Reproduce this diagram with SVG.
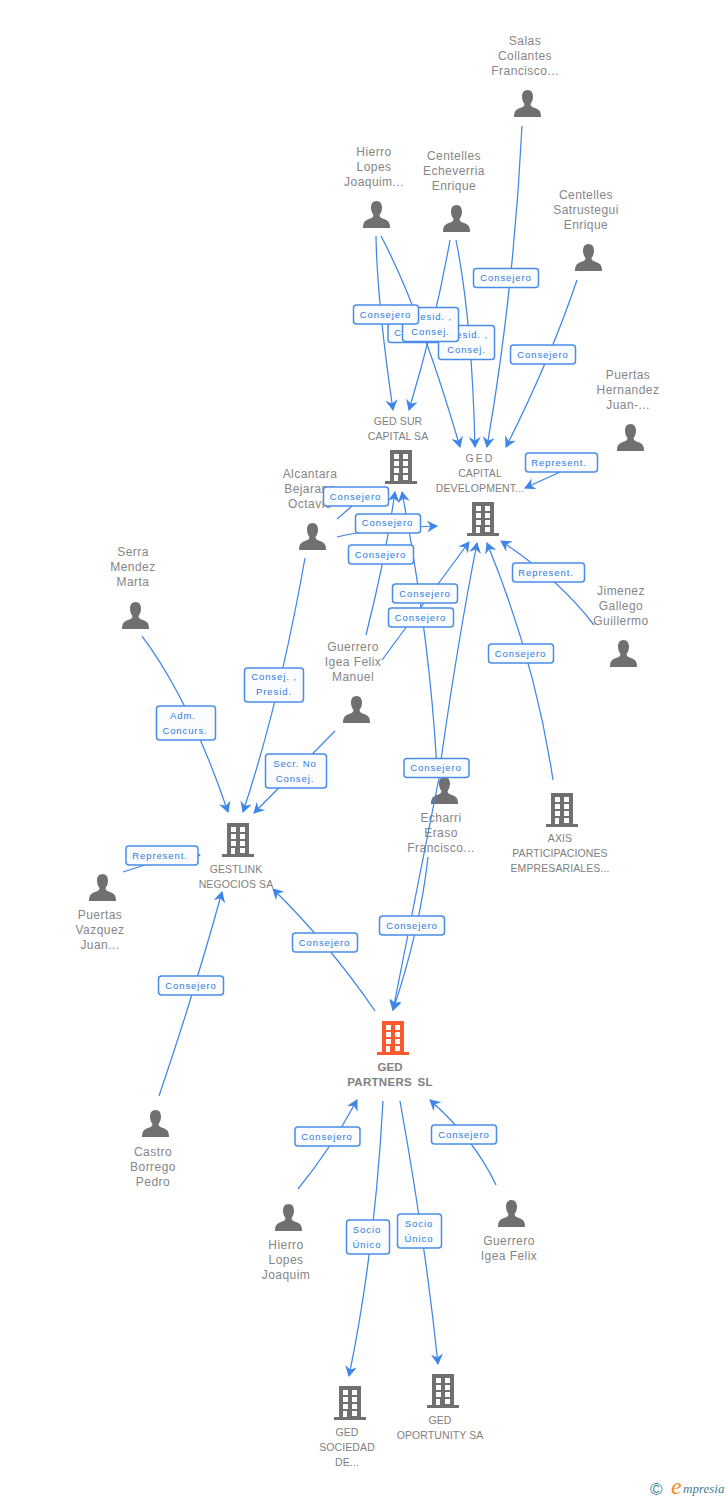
<svg xmlns="http://www.w3.org/2000/svg" width="728" height="1500" viewBox="0 0 728 1500">
<style>
text{font-family:"Liberation Sans",Arial,sans-serif}
.n{font-size:12px;fill:#868686;text-anchor:middle;letter-spacing:.45px}
.b{font-size:10.5px;fill:#808080;text-anchor:middle;letter-spacing:.1px}
.c{fill:none;stroke:#3f86e6;stroke-width:1.25}
.lb{fill:#fbfcfe;stroke:#4a8de8;stroke-width:1.5}
.lt{font-size:9.5px;fill:#2f7be0;text-anchor:middle;letter-spacing:.9px}
</style>
<defs>
<marker id="a" markerUnits="userSpaceOnUse" markerWidth="12" markerHeight="12" viewBox="0 0 12 12" refX="11" refY="6" orient="auto"><path d="M12,6L1,0L4.500,6L1,12Z" fill="#3f86e6"/></marker>
<symbol id="bl" overflow="visible" viewBox="0 0 32 34" width="32" height="34">
<path fill="#707070" fill-rule="evenodd" d="M5,0H27V31H32V34H0V31H5ZM9,4v5h5v-5ZM18,4v5h5v-5ZM9,11v5h5v-5ZM18,11v5h5v-5ZM9,18v5h5v-5ZM18,18v5h5v-5ZM9,25v6h4v-6ZM18,25v5h5v-5Z"/>
</symbol>
<symbol id="blo" overflow="visible" viewBox="0 0 32 34" width="32" height="34">
<path fill="#fa5a2d" fill-rule="evenodd" d="M5,0H27V31H32V34H0V31H5ZM9,4v5h5v-5ZM18,4v5h5v-5ZM9,11v5h5v-5ZM18,11v5h5v-5ZM9,18v5h5v-5ZM18,18v5h5v-5ZM9,25v6h4v-6ZM18,25v5h5v-5Z"/>
</symbol>
<symbol id="p" overflow="visible" viewBox="0 0 27 27" width="27" height="27">
<path fill="#707070" d="M13.5,0C17,0 19,2.800 19,6.500C19,9.500 18,12 16.500,14C16.500,16 18,17 21,18C25,19.500 27,21 27,27H0C0,21 2,19.500 6,18C9,17 10.500,16 10.500,14C9,12 8,9.500 8,6.500C8,2.800 10,0 13.500,0Z"/>
</symbol>
</defs>

<g id="salas"><text class="n" x="525" y="45">Salas</text><text class="n" x="525" y="60">Collantes</text><text class="n" x="525" y="75">Francisco...</text><use href="#p" x="514" y="90"/></g>
<g id="hierro-top"><text class="n" x="374" y="156">Hierro</text><text class="n" x="374" y="171">Lopes</text><text class="n" x="374" y="186">Joaquim...</text><use href="#p" x="363" y="201"/></g>
<g id="centelles-e"><text class="n" x="454" y="160">Centelles</text><text class="n" x="454" y="175">Echeverria</text><text class="n" x="454" y="190">Enrique</text><use href="#p" x="443" y="205"/></g>
<g id="centelles-s"><text class="n" x="586" y="199">Centelles</text><text class="n" x="586" y="214">Satrustegui</text><text class="n" x="586" y="229">Enrique</text><use href="#p" x="575" y="244"/></g>
<g id="puertas-h"><text class="n" x="628" y="379">Puertas</text><text class="n" x="628" y="394">Hernandez</text><text class="n" x="628" y="409">Juan-...</text><use href="#p" x="617" y="424"/></g>
<g id="ged-sur"><text class="b" x="398" y="425">GED SUR</text><text class="b" x="398" y="440">CAPITAL SA</text><use href="#bl" x="385" y="450"/></g>
<g id="ged-capital"><text class="b" x="480" y="462" style="letter-spacing:2px">GED</text><text class="b" x="480" y="477">CAPITAL</text><text class="b" x="480" y="492">DEVELOPMENT...</text><use href="#bl" x="467" y="502"/></g>
<g id="alcantara"><text class="n" x="310" y="478">Alcantara</text><text class="n" x="310" y="493">Bejarano</text><text class="n" x="310" y="508">Octavio</text><use href="#p" x="299" y="523"/></g>
<g id="serra"><text class="n" x="133" y="556">Serra</text><text class="n" x="133" y="571">Mendez</text><text class="n" x="133" y="586">Marta</text><use href="#p" x="122" y="602"/></g>
<g id="jimenez"><text class="n" x="621" y="595">Jimenez</text><text class="n" x="621" y="610">Gallego</text><text class="n" x="621" y="625">Guillermo</text><use href="#p" x="610" y="640"/></g>
<g id="guerrero-fm"><text class="n" x="353" y="651">Guerrero</text><text class="n" x="353" y="666">Igea Felix</text><text class="n" x="353" y="681">Manuel</text><use href="#p" x="343" y="696"/></g>
<g id="axis"><text class="b" x="560" y="842">AXIS</text><text class="b" x="560" y="857">PARTICIPACIONES</text><text class="b" x="560" y="872">EMPRESARIALES...</text><use href="#bl" x="546" y="793"/></g>
<g id="echarri"><use href="#p" x="431" y="777"/><text class="n" x="441" y="822">Echarri</text><text class="n" x="441" y="837">Eraso</text><text class="n" x="441" y="852">Francisco...</text></g>
<g id="gestlink"><text class="b" x="236" y="873">GESTLINK</text><text class="b" x="236" y="888">NEGOCIOS SA</text><use href="#bl" x="222" y="823"/></g>
<g id="puertas-v"><use href="#p" x="89" y="874"/><text class="n" x="100" y="919">Puertas</text><text class="n" x="100" y="934">Vazquez</text><text class="n" x="100" y="949">Juan...</text></g>
<g id="ged-partners"><use href="#blo" x="377" y="1021"/><text class="b" x="390" y="1071" style="font-weight:bold;font-size:11.5px">GED</text><text class="b" x="390" y="1086" style="font-weight:bold;font-size:11.5px;letter-spacing:.3px;word-spacing:2px">PARTNERS SL</text></g>
<g id="castro"><use href="#p" x="142" y="1110"/><text class="n" x="153" y="1156">Castro</text><text class="n" x="153" y="1171">Borrego</text><text class="n" x="153" y="1186">Pedro</text></g>
<g id="hierro-bottom"><use href="#p" x="275" y="1204"/><text class="n" x="286" y="1249">Hierro</text><text class="n" x="286" y="1264">Lopes</text><text class="n" x="286" y="1279">Joaquim</text></g>
<g id="guerrero-f"><use href="#p" x="498" y="1200"/><text class="n" x="509" y="1245">Guerrero</text><text class="n" x="509" y="1260">Igea Felix</text></g>
<g id="oportunity"><use href="#bl" x="427" y="1374"/><text class="b" x="440" y="1424">GED</text><text class="b" x="440" y="1439">OPORTUNITY SA</text></g>
<g id="sociedad"><use href="#bl" x="334" y="1386"/><text class="b" x="347" y="1436">GED</text><text class="b" x="347" y="1451">SOCIEDAD</text><text class="b" x="347" y="1466">DE...</text></g>
<g id="logo"><text x="650" y="1495" style="font-size:17px;fill:#3f7f9a">©</text><text x="671" y="1494" style="font-family:'Liberation Serif',serif;font-style:italic;font-size:24px;fill:#f5891f">e</text><text x="683" y="1493" style="font-family:'Liberation Serif',serif;font-style:italic;font-size:13px;fill:#3f7f9a">mpresia</text></g>

<g id="connectors">
<path class="c" marker-end="url(#a)" d="M522,126Q514,290 487,447"/>
<path class="c" marker-end="url(#a)" d="M376,236Q377,300 393,410"/>
<path class="c" marker-end="url(#a)" d="M381,236Q420,310 460,447"/>
<path class="c" marker-end="url(#a)" d="M450,240Q436,320 409,410"/>
<path class="c" marker-end="url(#a)" d="M456,240Q472,320 475,447"/>
<path class="c" marker-end="url(#a)" d="M577,280Q550,360 506,447"/>
<path class="c" marker-end="url(#a)" d="M560,472L525,488"/>
<path class="c" d="M337,519L352,506"/>
<path class="c" marker-end="url(#a)" d="M337,537Q370,529 437,526"/>
<path class="c" marker-end="url(#a)" d="M366,635Q385,560 395,492"/>
<path class="c" marker-end="url(#a)" d="M437,770Q430,640 402,492"/>
<path class="c" marker-end="url(#a)" d="M382,660L469,542"/>
<path class="c" marker-end="url(#a)" d="M441,760Q458,640 477,543"/>
<path class="c" marker-end="url(#a)" d="M553,780Q535,660 487,543"/>
<path class="c" marker-end="url(#a)" d="M594,625Q560,580 501,541"/>
<path class="c" marker-end="url(#a)" d="M305,558Q280,700 243,812"/>
<path class="c" marker-end="url(#a)" d="M142,636Q190,700 228,812"/>
<path class="c" marker-end="url(#a)" d="M335,731L254,813"/>
<path class="c" marker-end="url(#a)" d="M123,872L170,857L200,855"/>
<path class="c" marker-end="url(#a)" d="M159,1096Q195,990 222,892"/>
<path class="c" marker-end="url(#a)" d="M375,1011Q330,945 273,889"/>
<path class="c" marker-end="url(#a)" d="M439,778L393,1010"/>
<path class="c" marker-end="url(#a)" d="M428,857Q420,930 393,1010"/>
<path class="c" marker-end="url(#a)" d="M298,1189Q330,1150 357,1100"/>
<path class="c" marker-end="url(#a)" d="M496,1185Q475,1140 430,1100"/>
<path class="c" marker-end="url(#a)" d="M383,1101Q375,1250 349,1376"/>
<path class="c" marker-end="url(#a)" d="M400,1101Q425,1240 438,1364"/>
</g>

<g id="edge-labels">
<g><rect class="lb" x="473.500" y="268.500" width="65" height="19" rx="3"/><text class="lt" x="506" y="281">Consejero</text></g>
<g><rect class="lb" x="388" y="323.500" width="65" height="19" rx="3"/><text class="lt" x="420" y="336">Consejero</text></g>
<g><rect class="lb" x="438.500" y="325.500" width="56" height="34" rx="3"/><text class="lt" x="466.500" y="338">Presid. ,</text><text class="lt" x="466.500" y="353">Consej.</text></g>
<g><rect class="lb" x="402.500" y="307.500" width="56" height="34" rx="3"/><text class="lt" x="430.500" y="320">Presid. ,</text><text class="lt" x="430.500" y="335">Consej.</text></g>
<g><rect class="lb" x="353.500" y="305" width="65" height="19" rx="3"/><text class="lt" x="385.500" y="318">Consejero</text></g>
<g><rect class="lb" x="510.500" y="345" width="65" height="19" rx="3"/><text class="lt" x="543" y="358">Consejero</text></g>
<g><rect class="lb" x="525.500" y="453" width="72" height="19" rx="3"/><text class="lt" x="559" y="466">Represent.</text></g>
<g><rect class="lb" x="323.500" y="487" width="65" height="19" rx="3"/><text class="lt" x="355.500" y="500">Consejero</text></g>
<g><rect class="lb" x="355.500" y="514" width="65" height="19" rx="3"/><text class="lt" x="387.500" y="526">Consejero</text></g>
<g><rect class="lb" x="348.500" y="545" width="65" height="19" rx="3"/><text class="lt" x="380.500" y="558">Consejero</text></g>
<g><rect class="lb" x="512.500" y="563" width="72" height="19" rx="3"/><text class="lt" x="546" y="576">Represent.</text></g>
<g><rect class="lb" x="392.500" y="584" width="65" height="19" rx="3"/><text class="lt" x="425" y="597">Consejero</text></g>
<g><rect class="lb" x="388.500" y="608" width="65" height="19" rx="3"/><text class="lt" x="420.500" y="621">Consejero</text></g>
<g><rect class="lb" x="488.500" y="644" width="65" height="19" rx="3"/><text class="lt" x="520.500" y="657">Consejero</text></g>
<g><rect class="lb" x="244.500" y="668" width="59" height="34" rx="3"/><text class="lt" x="274" y="680">Consej. ,</text><text class="lt" x="274" y="695">Presid.</text></g>
<g><rect class="lb" x="156.500" y="706" width="59" height="34" rx="3"/><text class="lt" x="183" y="719">Adm.</text><text class="lt" x="185" y="734">Concurs.</text></g>
<g><rect class="lb" x="265.500" y="754" width="61" height="34" rx="3"/><text class="lt" x="295" y="767">Secr.  No</text><text class="lt" x="295" y="782">Consej.</text></g>
<g><rect class="lb" x="404" y="758.500" width="65" height="19" rx="3"/><text class="lt" x="436" y="771">Consejero</text></g>
<g><rect class="lb" x="126" y="846" width="72" height="19" rx="3"/><text class="lt" x="160" y="859">Represent.</text></g>
<g><rect class="lb" x="379.500" y="916" width="65" height="19" rx="3"/><text class="lt" x="412" y="929">Consejero</text></g>
<g><rect class="lb" x="292.500" y="933" width="65" height="19" rx="3"/><text class="lt" x="324.500" y="946">Consejero</text></g>
<g><rect class="lb" x="158.500" y="976" width="65" height="19" rx="3"/><text class="lt" x="191" y="989">Consejero</text></g>
<g><rect class="lb" x="431.500" y="1125" width="65" height="19" rx="3"/><text class="lt" x="464" y="1138">Consejero</text></g>
<g><rect class="lb" x="295" y="1127" width="65" height="19" rx="3"/><text class="lt" x="327" y="1140">Consejero</text></g>
<g><rect class="lb" x="397.500" y="1214" width="44" height="34" rx="3"/><text class="lt" x="419" y="1227">Socio</text><text class="lt" x="419" y="1242">Único</text></g>
<g><rect class="lb" x="346.500" y="1220" width="43" height="34" rx="3"/><text class="lt" x="367" y="1233">Socio</text><text class="lt" x="367" y="1248">Único</text></g>
</g>
</svg>
